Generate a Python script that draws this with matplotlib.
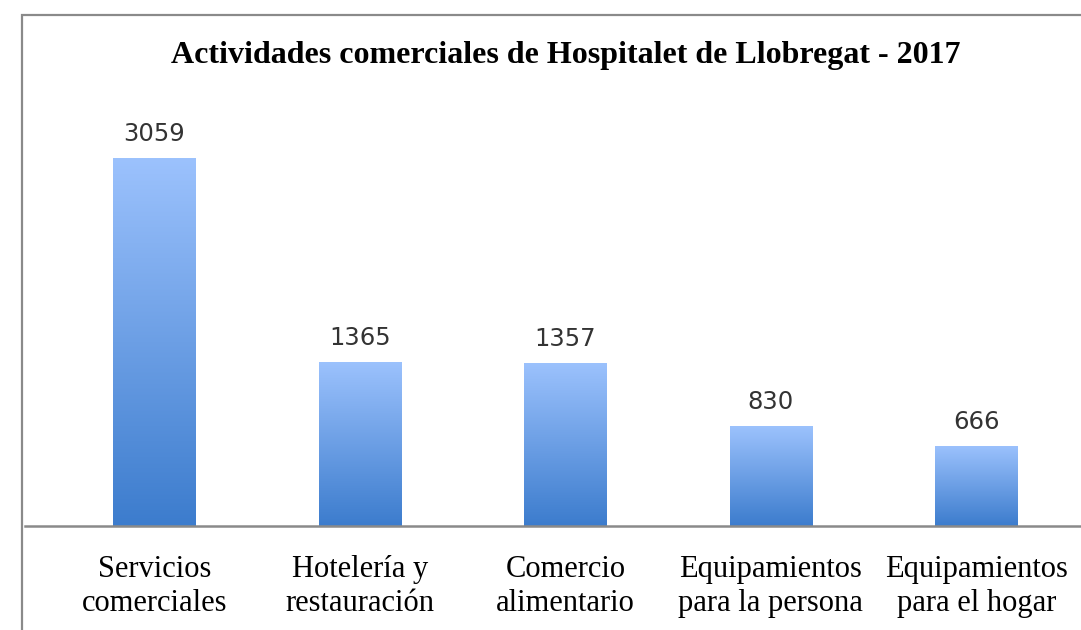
import numpy as np
import matplotlib.pyplot as plt
from matplotlib.colors import LinearSegmentedColormap
from matplotlib.patches import Rectangle

categories = ["Servicios\ncomerciales", "Hotelería y\nrestauración", "Comercio\nalimentario",
              "Equipamientos\npara la persona", "Equipamientos\npara el hogar"]
values = [3059, 1365, 1357, 830, 666]
title = "Actividades comerciales de Hospitalet de Llobregat - 2017"

W, H = 1081, 630
fig = plt.figure(figsize=(W / 100, H / 100), dpi=100)

# outer frame, runs off the right and bottom edges
fig.patches.append(Rectangle((22 / W, -0.05), 1.2, 1 - 15 / H + 0.05, transform=fig.transFigure,
                             fill=False, edgecolor="#8a8a8a", linewidth=1.6))

ax = fig.add_axes([25 / W, 104 / H, (W - 25) / W, (526 - 100) / H])
x = np.arange(len(values))
bars = ax.bar(x, values, width=0.4, color="none", edgecolor="none")

grad = LinearSegmentedColormap.from_list("blue", ["#3c7ccd", "#9cc2fd"])
g = np.linspace(0, 1, 256).reshape(-1, 1)
for b, v in zip(bars, values):
    x0, w = b.get_x(), b.get_width()
    im = ax.imshow(g, cmap=grad, aspect="auto", origin="lower",
                   extent=[x0, x0 + w, 0, v], zorder=2)
    im.set_clip_path(b)
    ax.text(x0 + w / 2, v + 100, str(v), ha="center", va="bottom",
            fontsize=17.5, color="#333333", family="DejaVu Sans")

ax.set_xlim(-0.63, 4.51)
ax.set_ylim(0, 426 / 0.1203)
for s in ["top", "right", "left"]:
    ax.spines[s].set_visible(False)
ax.spines["bottom"].set_color("#8a8a8a")
ax.spines["bottom"].set_linewidth(1.8)
ax.set_yticks([])
ax.set_xticks(x)
ax.set_xticklabels(categories, family="Liberation Serif", fontsize=22, linespacing=1.22)
ax.tick_params(axis="x", length=0, pad=21)

fig.text(566 / W, 1 - 56 / H, title, ha="center", va="center",
         family="Liberation Serif", fontweight="bold", fontsize=23)

fig.savefig("out.png", dpi=100)
